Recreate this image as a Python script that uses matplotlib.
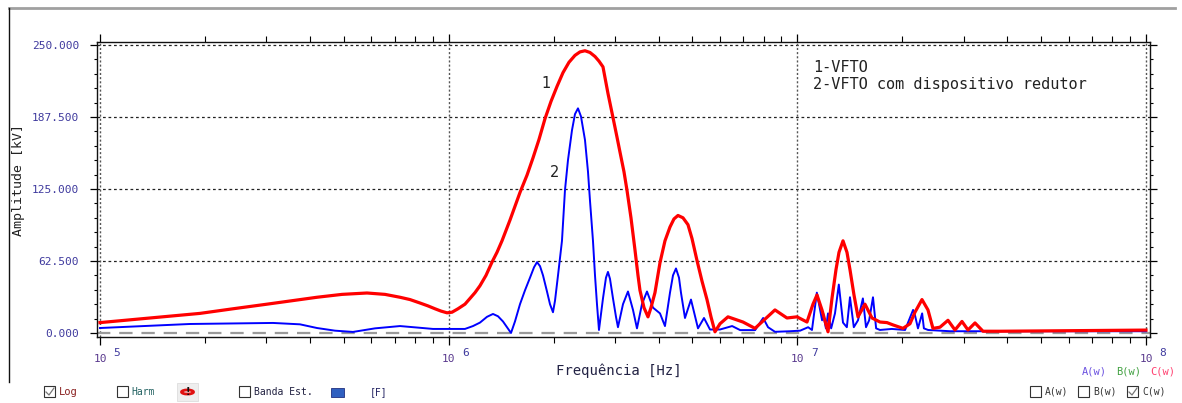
import numpy as np
import matplotlib
matplotlib.use("Agg")
import matplotlib.pyplot as plt
from matplotlib.ticker import FixedLocator, LogLocator, NullFormatter, FuncFormatter
from matplotlib.patches import Rectangle, Circle
from matplotlib.lines import Line2D

# ---------------- data (frequency given as log10(Hz)) ----------------
red_log10f = [5.0000, 5.1434, 5.2868, 5.3814, 5.4790, 5.5507, 5.6224, 5.6941, 5.7658, 5.8174,
              5.8604, 5.8891, 5.9178, 5.9407, 5.9608, 5.9780, 5.9952, 6.0095, 6.0267, 6.0468,
              6.0612, 6.0755, 6.0898, 6.1071, 6.1243, 6.1386, 6.1530, 6.1759, 6.2046, 6.2247,
              6.2419, 6.2591, 6.2763, 6.2935, 6.3107, 6.3279, 6.3451, 6.3623, 6.3766, 6.3910,
              6.4053, 6.4197, 6.4311, 6.4426, 6.4569, 6.4713, 6.4828, 6.4914, 6.5028, 6.5114,
              6.5229, 6.5344, 6.5430, 6.5487, 6.5602, 6.5717, 6.5803, 6.5917, 6.6061, 6.6204,
              6.6348, 6.6462, 6.6577, 6.6720, 6.6864, 6.6979, 6.7122, 6.7266, 6.7409, 6.7524,
              6.7638, 6.7782, 6.8011, 6.8441, 6.8786, 6.9072, 6.9359, 6.9703, 6.9990, 7.0277,
              7.0449, 7.0564, 7.0707, 7.0880, 7.0994, 7.1109, 7.1195, 7.1310, 7.1424, 7.1510,
              7.1625, 7.1740, 7.1940, 7.2141, 7.2371, 7.2571, 7.2743, 7.3030, 7.3231, 7.3374,
              7.3575, 7.3747, 7.3890, 7.4091, 7.4321, 7.4522, 7.4722, 7.4895, 7.5096, 7.5325,
              7.5813, 8.0000]
red_amp = [9, 13, 17, 21, 25, 28, 31, 33.5, 34.7, 33.5,
           31, 29, 26, 23.5, 21, 19, 17.5, 18, 21, 25,
           30, 35, 41, 50, 61.5, 70, 80, 98, 122, 137,
           152, 168, 186, 201, 214, 226, 235, 241, 244, 245,
           243.5, 240, 236, 231, 208, 187, 170, 157, 140, 124,
           100, 72, 50, 37, 22, 14, 22, 35, 61, 80,
           92, 99, 102, 100, 94, 82, 63, 45, 29, 14,
           1, 8, 14, 9.5, 4, 12, 20, 13, 14, 9.5,
           25, 33, 20, 1, 30, 55, 70, 80, 70, 55,
           33, 14, 25, 13, 9.5, 9, 7, 4, 8, 18,
           29, 20, 4, 5, 11, 2.6, 10, 2.6, 8.7, 1.5,
           1.5, 2.5]

blue_log10f = [5.0000, 5.2581, 5.4962, 5.5736, 5.6224, 5.6740, 5.7256, 5.7887, 5.8604, 5.9178,
               5.9551, 6.0468, 6.0698, 6.0898, 6.1099, 6.1271, 6.1415, 6.1558, 6.1673, 6.1788,
               6.1902, 6.2046, 6.2189, 6.2333, 6.2448, 6.2534, 6.2620, 6.2706, 6.2820, 6.2906,
               6.2992, 6.3050, 6.3136, 6.3193, 6.3250, 6.3336, 6.3422, 6.3537, 6.3623, 6.3709,
               6.3795, 6.3910, 6.3996, 6.4053, 6.4139, 6.4197, 6.4254, 6.4311, 6.4426, 6.4512,
               6.4569, 6.4627, 6.4713, 6.4799, 6.4856, 6.5000, 6.5143, 6.5287, 6.5401, 6.5544,
               6.5688, 6.5860, 6.6061, 6.6204, 6.6348, 6.6434, 6.6520, 6.6606, 6.6663, 6.6778,
               6.6950, 6.7151, 6.7323, 6.7495, 6.7782, 6.8130, 6.8360, 6.8790, 6.9020, 6.9160,
               6.9360, 6.9790, 7.0080, 7.0310, 7.0420, 7.0560, 7.0710, 7.0740, 7.0820, 7.0880,
               7.0970, 7.1080, 7.1190, 7.1310, 7.1420, 7.1510, 7.1620, 7.1740, 7.1880, 7.1970,
               7.2060, 7.2170, 7.2260, 7.2370, 7.2710, 7.3090, 7.3320, 7.3370, 7.3460, 7.3580,
               7.3630, 7.3750, 7.4380, 7.5810, 8.0000]
blue_amp = [4.3, 7.8, 8.7, 7.5, 4.3, 2, 0.9, 4, 6, 4.5,
            3.5, 3.5, 6, 9, 14, 16.5, 14.5, 10, 5, 0,
            10, 25, 37, 48, 57, 61.5, 58, 50, 36, 25,
            18, 28, 50, 65, 80, 124, 150, 176, 190, 195,
            188, 167.5, 140, 115, 80, 50, 25, 2.6, 30, 48,
            53, 47, 30, 14, 5, 25, 36, 20, 4, 25,
            36, 22, 17, 6, 35, 50, 56, 48, 35, 13,
            29, 4, 13, 3, 3, 6, 2.5, 2.5, 13, 5,
            1, 1.5, 2, 5, 2.6, 35, 11, 17, 4, 17,
            4, 17, 42, 9, 5, 31, 5, 11, 30, 5,
            11, 31, 4, 2.6, 3.5, 2.6, 20, 16, 4, 17,
            4, 2.6, 1.5, 1.5, 1.5]

y_ticks = [0.0, 62.5, 125.0, 187.5, 250.0]
x_decades = [5, 6, 7, 8]
legend_lines = ["1-VFTO", "2-VFTO com dispositivo redutor"]

# ---------------- figure ----------------
W, H = 1182, 403
fig = plt.figure(figsize=(W / 100, H / 100), dpi=100)
fig.patch.set_facecolor("white")

def fx(x):
    return x / W

def fy(y):
    return 1 - y / H

ax_l, ax_r, ax_t, ax_b = 97, 1150, 42, 337
ax = fig.add_axes([fx(ax_l), fy(ax_b), fx(ax_r) - fx(ax_l), fy(ax_t) - fy(ax_b)])

mono = "DejaVu Sans Mono"
tick_col = "#3f3a9e"

ax.set_xscale("log")
ax.set_xlim(10 ** 4.9914, 10 ** 8.0115)
ax.set_ylim(-3.5, 252.6)

# grid
for yv in y_ticks[1:]:
    ax.axhline(yv, color="#222222", lw=0.9, ls=(0, (2.2, 2.2)), zorder=1)
for d in x_decades:
    ax.axvline(10.0 ** d, color="#555555", lw=1.0, ls=(0, (1.5, 1.5)), zorder=1)
ax.axhline(0, color="#9a9a9a", lw=1.6, ls=(0, (6, 4)), zorder=1)

# curves
ax.plot(10.0 ** np.array(blue_log10f), blue_amp, color="#0000ff", lw=1.4, zorder=3,
        solid_joinstyle="round")
ax.plot(10.0 ** np.array(red_log10f), red_amp, color="#ff0000", lw=2.3, zorder=4,
        solid_joinstyle="round")

# ticks
ax.yaxis.set_major_locator(FixedLocator(y_ticks))
ax.yaxis.set_minor_locator(FixedLocator(list(np.arange(0, 252, 12.5))))
ax.yaxis.set_major_formatter(FuncFormatter(lambda v, p: f"{v:.3f}"))
ax.tick_params(axis="y", which="major", direction="out", length=5, width=0.9,
               left=True, right=True, labelleft=True, labelright=False,
               labelsize=8, labelcolor=tick_col, pad=8)
ax.tick_params(axis="y", which="minor", direction="out", length=2.5, width=0.8,
               left=True, right=True)
for lab in ax.get_yticklabels():
    lab.set_fontfamily(mono)

ax.xaxis.set_major_locator(FixedLocator([10.0 ** d for d in x_decades]))
ax.xaxis.set_minor_locator(LogLocator(base=10, subs=np.arange(2, 10)))
ax.xaxis.set_major_formatter(NullFormatter())
ax.xaxis.set_minor_formatter(NullFormatter())
ax.tick_params(axis="x", which="major", direction="out", length=6, width=0.9,
               top=True, bottom=True)
ax.tick_params(axis="x", which="minor", direction="out", length=4, width=0.8,
               top=True, bottom=True)

for s in ax.spines.values():
    s.set_linewidth(1.0)
    s.set_color("#111111")

# decade labels "10" with exponent
for d in x_decades:
    ax.annotate("10", xy=(10.0 ** d, 0), xycoords=("data", "axes fraction"),
                xytext=(0, -22), textcoords="offset pixels", ha="center", va="center",
                fontsize=8, family=mono, color="#5a3a8e")
    ax.annotate(str(d), xy=(10.0 ** d, 0), xycoords=("data", "axes fraction"),
                xytext=(17, -16), textcoords="offset pixels", ha="center", va="center",
                fontsize=8, family=mono, color="#3f3a9e")

fig.text(fx(619), fy(371), "Frequência [Hz]", family=mono, fontsize=10, color="#222244",
         ha="center", va="center")
fig.text(fx(19), fy(180), "Amplitude [kV]", rotation=90, family=mono, fontsize=9.5,
         color="#222222", ha="center", va="center")

# curve labels and legend text
fig.text(fx(546), fy(84), "1", fontsize=10.5, color="#222222", ha="center", va="center")
fig.text(fx(555), fy(173), "2", fontsize=10.5, color="#222222", ha="center", va="center")
fig.text(fx(813), fy(67), legend_lines[0], family=mono, fontsize=11, color="#222222",
         ha="left", va="center")
fig.text(fx(813), fy(84), legend_lines[1], family=mono, fontsize=11, color="#222222",
         ha="left", va="center")

# window frame
fig.add_artist(Line2D([fx(9), fx(1175)], [fy(8), fy(8)], transform=fig.transFigure,
                      color="#a0a0a0", lw=2))
fig.add_artist(Line2D([fx(9), fx(9)], [fy(8), fy(382)], transform=fig.transFigure,
                      color="#111111", lw=1))

# bottom toolbar
def checkbox(x, y, checked=False):
    fig.add_artist(Rectangle((fx(x), fy(y + 11)), 11 / W, 11 / H, transform=fig.transFigure,
                             facecolor="white", edgecolor="#333333", lw=0.8))
    if checked:
        fig.add_artist(Line2D([fx(x + 2), fx(x + 5), fx(x + 10)],
                              [fy(y + 6), fy(y + 9), fy(y + 2)],
                              transform=fig.transFigure, color="#777777", lw=0.9))

ty = 386
checkbox(44, ty, True)
fig.text(fx(59), fy(392), "Log", family=mono, fontsize=7.5, color="#8a2020", va="center")
checkbox(117, ty)
fig.text(fx(131), fy(392), "Harm", family=mono, fontsize=7, color="#206060", va="center")
fig.add_artist(Rectangle((fx(177), fy(401)), 21 / W, 18 / H, transform=fig.transFigure,
                         facecolor="#eeeeee", edgecolor="#dddddd", lw=0.6))
fig.add_artist(Circle((fx(187.5), fy(392)), 6 / W, transform=fig.transFigure,
                      facecolor="none", edgecolor="#e01010", lw=2))
fig.text(fx(187.5), fy(392), "!", fontsize=7, color="#111111", ha="center", va="center",
         weight="bold")
checkbox(239, ty)
fig.text(fx(254), fy(392), "Banda Est.", family=mono, fontsize=7, color="#202040", va="center")
fig.add_artist(Rectangle((fx(331), fy(397)), 13 / W, 9 / H, transform=fig.transFigure,
                         facecolor="#3060c0", edgecolor="#203080", lw=0.6))
fig.text(fx(370), fy(392), "[F]", family=mono, fontsize=7, color="#202060", va="center")

checkbox(1030, ty)
fig.text(fx(1045), fy(392), "A(w)", family=mono, fontsize=7, color="#333333", va="center")
checkbox(1078, ty)
fig.text(fx(1093), fy(392), "B(w)", family=mono, fontsize=7, color="#333333", va="center")
checkbox(1127, ty, True)
fig.text(fx(1142), fy(392), "C(w)", family=mono, fontsize=7, color="#333333", va="center")

fig.text(fx(1082), fy(372), "A(w)", family=mono, fontsize=7.5, color="#6a50e0", va="center")
fig.text(fx(1116), fy(372), "B(w)", family=mono, fontsize=7.5, color="#40a040", va="center")
fig.text(fx(1150), fy(372), "C(w)", family=mono, fontsize=7.5, color="#ff4070", va="center")

fig.savefig("out.png", dpi=100, facecolor="white")
